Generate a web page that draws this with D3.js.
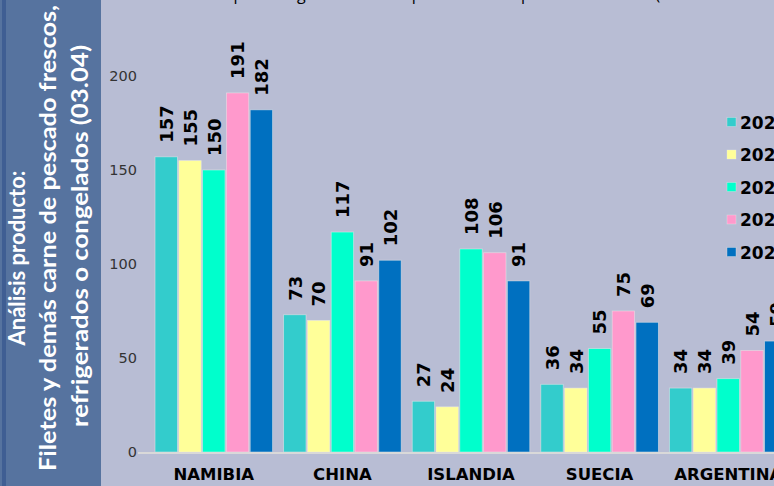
<!DOCTYPE html>
<html>
<head>
<meta charset="utf-8">
<script src="https://cdn.jsdelivr.net/npm/d3@7"></script>
<style>
html,body{margin:0;padding:0;background:#b8bdd4;overflow:hidden;}
svg{display:block;}
</style>
</head>
<body>
<svg id="chart" width="774" height="486"></svg>
<script>
const categories = ["NAMIBIA", "CHINA", "ISLANDIA", "SUECIA", "ARGENTINA"];
const seriesNames = ["2020", "2021", "2022", "2023", "2024"];
const values2020 = [157, 73, 27, 36, 34];
const values2021 = [155, 70, 24, 34, 34];
const values2022 = [150, 117, 108, 55, 39];
const values2023 = [191, 91, 106, 75, 54];
const values2024 = [182, 102, 91, 69, 59];
const yTicks = [0, 50, 100, 150, 200];
const titleLines = ["Análisis producto:", "Filetes y demás carne de pescado frescos,", "refrigerados o congelados  (03.04)"];
const topTitle = "Gráfica 3. Principales orígenes de las importaciones españolas de filetes (miles de toneladas)";

const seriesValues = [values2020, values2021, values2022, values2023, values2024];
const colors = ["#33CCCC", "#FFFF99", "#00FFCC", "#FF99CC", "#0070C0"];

const svg = d3.select("#chart");
const W = 774, H = 486;

// background
svg.append("rect").attr("x", 0).attr("y", 0).attr("width", W).attr("height", H).attr("fill", "#b8bdd4");

// left panel
svg.append("rect").attr("x", 0).attr("y", 0).attr("width", 101).attr("height", H).attr("fill", "#56739f");
svg.append("rect").attr("x", 2).attr("y", 0).attr("width", 4).attr("height", H).attr("fill", "#3f5e93");

const titleGeom = [
  {x: 25, cy: 258, len: 175},
  {x: 56, cy: 238, len: 466},
  {x: 88, cy: 236, len: 382}
];
titleLines.forEach((t, i) => {
  const g = titleGeom[i];
  svg.append("text")
    .attr("transform", `translate(${g.x},${g.cy}) rotate(-90)`)
    .attr("text-anchor", "middle")
    .attr("font-family", "Lato, 'Open Sans', sans-serif")
    .attr("font-weight", "bold")
    .attr("font-size", 22)
    .attr("fill", "#ffffff")
    .attr("textLength", g.len)
    .attr("lengthAdjust", "spacingAndGlyphs")
    .text(t);
});

// top title (clipped at top edge)
svg.append("text")
  .attr("x", 117).attr("y", -0.5)
  .attr("font-family", "'Open Sans', sans-serif")
  .attr("font-size", 16)
  .attr("fill", "#000")
  .text(topTitle);

// scales
const y = d3.scaleLinear().domain([0, 200]).range([452, 76]);
const step = 128.6;
const x0 = d3.scaleBand().domain(categories).range([149.5, 149.5 + step * categories.length]).paddingInner(0.086).paddingOuter(0.043);
const x1 = d3.scaleBand().domain(seriesNames).range([0, x0.bandwidth()]).paddingInner(0.06);

// y axis labels
const yAxis = d3.axisLeft(y).tickValues(yTicks).tickSize(0).tickPadding(0);
const gy = svg.append("g").attr("transform", "translate(137,0)").call(yAxis);
gy.select(".domain").remove();
gy.selectAll("text")
  .attr("font-family", "'DejaVu Sans', Verdana, sans-serif")
  .attr("font-size", 14.5)
  .attr("fill", "#333");

// bars
const groups = svg.append("g").selectAll("g").data(categories).join("g")
  .attr("transform", d => `translate(${x0(d)},0)`);

groups.each(function(cat, ci) {
  const g = d3.select(this);
  seriesNames.forEach((s, si) => {
    const v = seriesValues[si][ci];
    g.append("rect")
      .attr("x", x1(s))
      .attr("y", y(v))
      .attr("width", x1.bandwidth())
      .attr("height", y(0) - y(v))
      .attr("fill", colors[si])
      .attr("stroke", "rgba(235,235,235,0.6)")
      .attr("stroke-width", 0.8);
    g.append("text")
      .attr("transform", `translate(${x1(s) + x1.bandwidth() / 2 + 6.8},${y(v) - 14}) rotate(-90)`)
      .attr("font-family", "'DejaVu Sans', Verdana, sans-serif")
      .attr("font-weight", "bold")
      .attr("font-size", 18)
      .attr("fill", "#000")
      .text(v);
  });
});

// baseline
svg.append("line").attr("x1", 138).attr("x2", W).attr("y1", y(0) + 1).attr("y2", y(0) + 1)
  .attr("stroke", "#d9d9d9").attr("stroke-width", 2);

// x axis labels
const xAxis = d3.axisBottom(x0).tickSize(0).tickPadding(0);
const gx = svg.append("g").attr("transform", `translate(0,${y(0) + 28})`).call(xAxis);
gx.select(".domain").remove();
gx.selectAll("text")
  .attr("dy", 0)
  .attr("font-family", "'DejaVu Sans', Verdana, sans-serif")
  .attr("font-weight", "bold")
  .attr("font-size", 16.5)
  .attr("fill", "#000");

// legend
const legendY = [122, 154.5, 187, 219.5, 252];
const leg = svg.append("g");
seriesNames.forEach((s, i) => {
  leg.append("rect").attr("x", 727).attr("y", legendY[i] - 4.5).attr("width", 9).attr("height", 9)
    .attr("fill", colors[i]).attr("stroke", "rgba(235,235,235,0.6)").attr("stroke-width", 0.6);
  leg.append("text").attr("x", 740).attr("y", legendY[i] + 6.5)
    .attr("font-family", "'DejaVu Sans', Verdana, sans-serif")
    .attr("font-weight", "bold")
    .attr("font-size", 17)
    .attr("fill", "#000")
    .text(s);
});
</script>
</body>
</html>
